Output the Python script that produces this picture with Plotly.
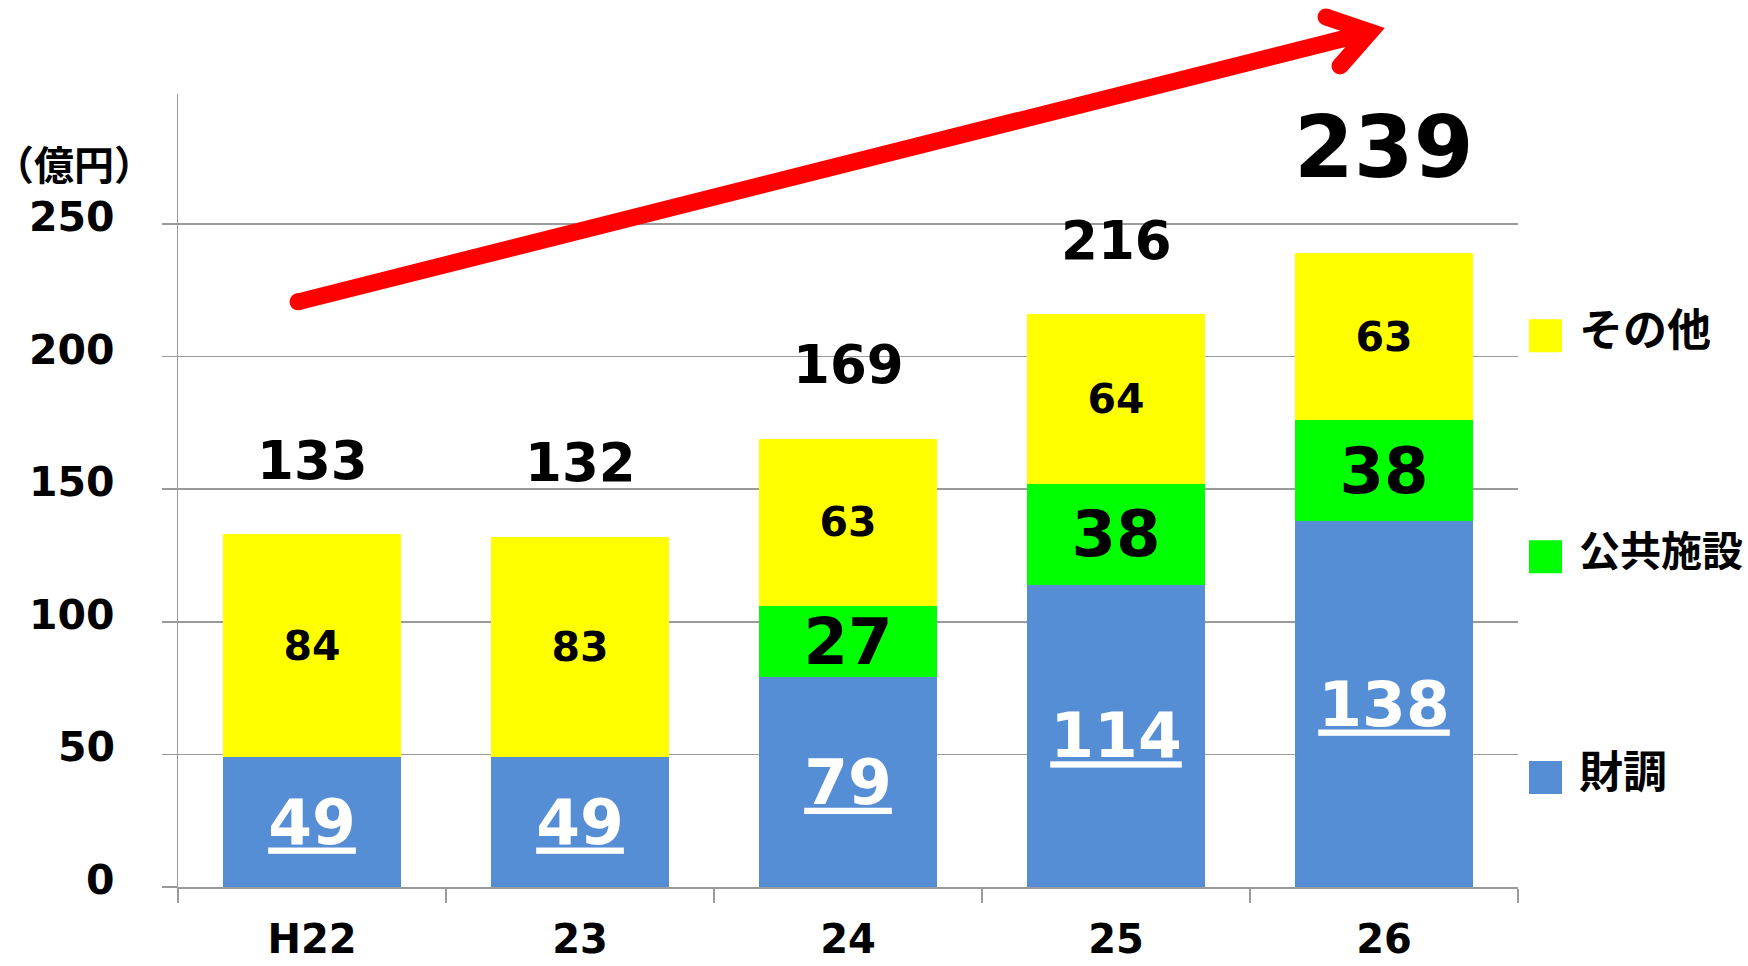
import plotly.graph_objects as go

# ---------------- data ----------------
categories = ["H22", "23", "24", "25", "26"]
zaicho = [49, 49, 79, 114, 138]          # 財調
koukyou = [None, None, 27, 38, 38]       # 公共施設
sonota = [84, 83, 63, 64, 63]            # その他
totals = [133, 132, 169, 216, 239]
y_tick_values = [0, 50, 100, 150, 200, 250]
series_names = ["財調", "公共施設", "その他"]
unit_label = "（億円）"

# ---------------- style / layout ----------------
W, H = 1748, 966
PL, PR, PT, PB = 178, 1518, 94, 887.5    # plot area in page pixels
L, R, T, B = PL, W - PR, PT, H - PB
Y_MAX = 299
NUM = "DejaVu Sans"
JP = "Noto Sans CJK JP"
GRID = "#9A9A9A"
colors = {"財調": "#558ED5", "公共施設": "#00FF00", "その他": "#FFFF00"}


def paper(px, py):
    """convert a pixel position on the page into paper coordinates"""
    return (px - L) / (W - L - R), (H - B - py) / (H - T - B)


def lab(v, underline=False):
    if v is None:
        return ""
    return f"<u>{v}</u>" if underline else str(v)


fig = go.Figure()

series = [
    ("財調", zaicho, "white", 63, True),
    ("公共施設", koukyou, "black", 64, False),
    ("その他", sonota, "black", 41, False),
]
for name, vals, tcolor, tsize, ul in series:
    fig.add_trace(go.Bar(
        x=categories, y=vals, name=name,
        marker=dict(color=colors[name], line=dict(width=0)),
        text=[lab(v, ul) for v in vals],
        textposition="inside", insidetextanchor="middle", textangle=0,
        constraintext="none",
        textfont=dict(family=NUM, size=tsize, color=tcolor, weight="bold"),
        showlegend=False, hoverinfo="skip",
    ))

# totals above bars (x given as category index)
for i, t in enumerate(totals):
    last = i == len(totals) - 1
    fig.add_annotation(
        x=i, y=t, text=str(t), showarrow=False, yanchor="middle",
        yshift=106 if last else 74,
        font=dict(family=NUM, size=86 if last else 53, color="black", weight="bold"),
    )

# y tick labels (sit slightly above their gridlines)
tx_right, _ = paper(117, 0)
for v in y_tick_values:
    fig.add_annotation(
        xref="paper", x=tx_right, y=v, text=str(v), showarrow=False,
        xanchor="right", yanchor="middle", yshift=7,
        font=dict(family=NUM, size=41, color="black", weight="bold"),
    )

# unit label
ux, uy = paper(74, 163)
fig.add_annotation(xref="paper", yref="paper", x=ux, y=uy, text=unit_label,
                   showarrow=False, xanchor="center", yanchor="middle",
                   font=dict(family=JP, size=40, color="black", weight="bold"))

# custom legend (top to bottom: その他, 公共施設, 財調)
legend_centers = {"その他": 336, "公共施設": 557, "財調": 778}
legend_sizes = {"その他": 44, "公共施設": 41, "財調": 44}
shapes = []
for name in series_names:
    cy = legend_centers[name]
    x0, y0 = paper(1529, cy + 16.5)
    x1, y1 = paper(1562, cy - 16.5)
    shapes.append(dict(type="rect", xref="paper", yref="paper", x0=x0, x1=x1, y0=y0, y1=y1,
                       fillcolor=colors[name], line=dict(width=0), layer="above"))
    lx, ly = paper(1577, cy - 9)
    fig.add_annotation(xref="paper", yref="paper", x=lx, y=ly, text=name, showarrow=False,
                       xanchor="left", yanchor="middle",
                       font=dict(family=JP, size=legend_sizes[name], color="black", weight="bold"))

# red trend arrow
RED = "#FF0000"
AW = 17
start = paper(298, 302)
vertex = paper(1370, 32)
wing1 = paper(1326, 17)
wing2 = paper(1340, 66)
path = (f"M {start[0]},{start[1]} L {vertex[0]},{vertex[1]} "
        f"M {wing1[0]},{wing1[1]} L {vertex[0]},{vertex[1]} L {wing2[0]},{wing2[1]}")
shapes.append(dict(type="path", xref="paper", yref="paper", path=path,
                   line=dict(color=RED, width=AW), layer="above"))
for p in (start, wing1, wing2):
    shapes.append(dict(type="circle", xref="paper", yref="paper",
                       xsizemode="pixel", ysizemode="pixel",
                       xanchor=p[0], yanchor=p[1],
                       x0=-AW / 2, x1=AW / 2, y0=-AW / 2, y1=AW / 2,
                       fillcolor=RED, line=dict(width=0), layer="above"))

fig.update_layout(
    width=W, height=H,
    margin=dict(l=L, r=R, t=T, b=B, pad=0, autoexpand=False),
    barmode="stack", bargap=0.336,
    plot_bgcolor="white", paper_bgcolor="white",
    shapes=shapes,
    font=dict(family=NUM, color="black"),
    xaxis=dict(
        type="category", range=[-0.5, len(categories) - 0.5], autorange=False,
        automargin=False,
        showgrid=False, showline=True, linecolor=GRID, linewidth=1.5,
        ticks="outside", tickson="boundaries", ticklen=14, tickcolor=GRID, tickwidth=1.5,
        tickangle=0, ticklabelstandoff=16,
        tickfont=dict(family=NUM, size=40, color="black", weight="bold"),
        fixedrange=True,
    ),
    yaxis=dict(
        range=[0, Y_MAX], autorange=False, automargin=False,
        tickvals=y_tick_values, showticklabels=False,
        showgrid=True, gridcolor=GRID, gridwidth=1.5,
        zeroline=False, showline=True, linecolor=GRID, linewidth=1.5,
        ticks="outside", ticklen=15, tickcolor=GRID, tickwidth=1.5,
        fixedrange=True,
    ),
)

# place the figure flush with the page corner (no default body margin)
fig.write_html(
    "out.html",
    config={"displayModeBar": False, "staticPlot": True},
    post_script="document.body.style.margin='0';document.body.style.overflow='hidden';",
)
